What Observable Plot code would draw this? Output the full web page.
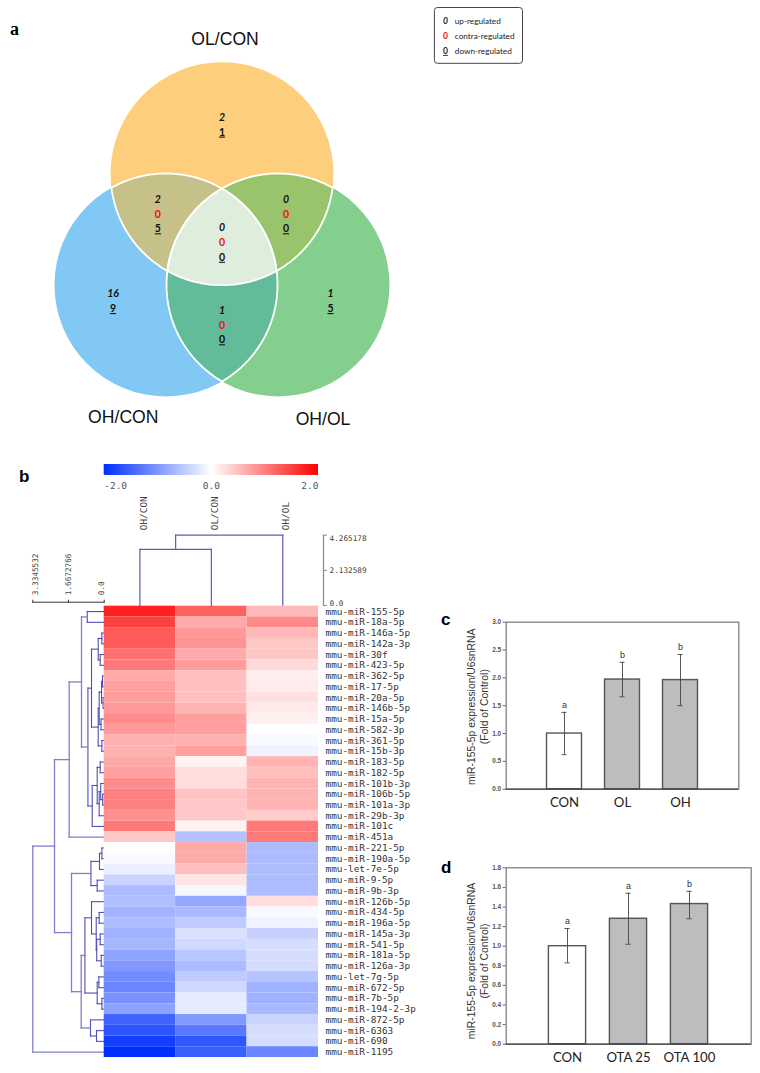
<!DOCTYPE html>
<html>
<head>
<meta charset="utf-8">
<script src="https://cdn.jsdelivr.net/npm/d3@7"></script>
<script src="https://cdn.jsdelivr.net/npm/@observablehq/plot@0.6"></script>
<style>
  html, body { margin: 0; padding: 0; background: #fff; }
  #page { position: relative; width: 760px; height: 1073px; overflow: hidden; }
  .under text { text-decoration: underline; }
  .panel { position: absolute; font-weight: 700; color: #000; line-height: 1; }
</style>
</head>
<body>
<div id="page"></div>
<script>
/* ---------- data ---------- */
const vennSets = ["OL/CON", "OH/CON", "OH/OL"];
const vennRegions = ["OL", "OH/CON only", "OH/OL only", "OL&OH", "OL&OHOL", "OH&OHOL", "all"];
const vennUp     = [2, 16, 1, 2, 0, 1, 0];
const vennContra = [null, null, null, 0, 0, 0, 0];
const vennDown   = [1, 9, 5, 5, 0, 0, 0];

const legendKeys   = ["0", "0", "0"];
const legendLabels = ["up-regulated", "contra-regulated", "down-regulated"];

const heatColumns = ["OH/CON", "OL/CON", "OH/OL"];
const rowLabels = ["mmu-miR-155-5p","mmu-miR-18a-5p","mmu-miR-146a-5p","mmu-miR-142a-3p","mmu-miR-30f","mmu-miR-423-5p","mmu-miR-362-5p","mmu-miR-17-5p","mmu-miR-20a-5p","mmu-miR-146b-5p","mmu-miR-15a-5p","mmu-miR-582-3p","mmu-miR-361-5p","mmu-miR-15b-3p","mmu-miR-183-5p","mmu-miR-182-5p","mmu-miR-101b-3p","mmu-miR-106b-5p","mmu-miR-101a-3p","mmu-miR-29b-3p","mmu-miR-101c","mmu-miR-451a","mmu-miR-221-5p","mmu-miR-190a-5p","mmu-let-7e-5p","mmu-miR-9-5p","mmu-miR-9b-3p","mmu-miR-126b-5p","mmu-miR-434-5p","mmu-miR-196a-5p","mmu-miR-145a-3p","mmu-miR-541-5p","mmu-miR-181a-5p","mmu-miR-126a-3p","mmu-let-7g-5p","mmu-miR-672-5p","mmu-miR-7b-5p","mmu-miR-194-2-3p","mmu-miR-872-5p","mmu-miR-6363","mmu-miR-690","mmu-miR-1195"];
const valuesOHCON = [1.75,1.5,1.3,1.3,1.12,1.05,.67,.75,.78,.8,.9,.8,.62,.62,.68,.75,.9,1.0,1.0,.87,1.05,.43,0,-.05,-.15,-.42,-.65,-.62,-.72,-.65,-.75,-.7,-.88,-1.0,-1.1,-1.18,-1.05,-.9,-1.5,-1.65,-1.85,-2];
const valuesOLCON = [1.25,.67,.8,.85,.67,.78,.5,.5,.5,.59,.75,.75,.62,.75,.1,.27,.27,.46,.43,.43,.1,-.6,.67,.67,.5,.2,-.08,-.85,-.68,-.5,-.3,-.38,-.55,-.65,-.5,-.38,-.2,-.2,-.98,-1.3,-1.62,-1.55];
const valuesOHOL  = [.55,.93,.56,.45,.45,.3,.13,.16,.24,.18,.12,0,-.05,-.12,.6,.5,.6,.6,.6,.4,1.05,1.05,-.65,-.65,-.65,-.65,-.65,.27,-.05,-.12,-.45,-.33,-.33,-.33,-.58,-.75,-.75,-.68,-.42,-.33,-.33,-1.18];

const colorStops = [-2, 0, 2];
const colorTicks = ["-2.0", "0.0", "2.0"];

const columnTree = [4.265178, [3.4, "OH/CON", "OL/CON"], "OH/OL"];
const columnTicks = [4.265178, 2.132589, 0];
const columnTickLabels = ["4.265178", "2.132589", "0.0"];
const rowTicks = [3.3345532, 1.6672766, 0];
const rowTickLabels = ["3.3345532", "1.6672766", "0.0"];
const rowTree =
 [3.3345,
  [2.32,
   [1.635,
    [1.06,
     [.79, "mmu-miR-155-5p", "mmu-miR-18a-5p"],
     [.76,
      [.593,
       [.28, [.11, "mmu-miR-146a-5p", "mmu-miR-142a-3p"], [.187, "mmu-miR-30f", "mmu-miR-423-5p"]],
       [.28,
        [.234,
         [.125, [.08, "mmu-miR-362-5p", "mmu-miR-17-5p"], [.05, "mmu-miR-20a-5p", "mmu-miR-146b-5p"]],
         [.15, "mmu-miR-15a-5p", "mmu-miR-582-3p"]],
        [.11, "mmu-miR-361-5p", "mmu-miR-15b-3p"]]],
      [.56,
       [.327,
        [.187, "mmu-miR-183-5p", "mmu-miR-182-5p"],
        [.234,
         [.163, "mmu-miR-101b-3p", [.07, "mmu-miR-106b-5p", "mmu-miR-101a-3p"]],
         "mmu-miR-29b-3p"]],
       "mmu-miR-101c"]]],
    "mmu-miR-451a"],
   [1.527,
    [.62,
     [.22, [.107, "mmu-miR-221-5p", "mmu-miR-190a-5p"], "mmu-let-7e-5p"],
     [.327, "mmu-miR-9-5p", "mmu-miR-9b-3p"]],
    [1.074,
     [.90,
      [.593,
       "mmu-miR-126b-5p",
       [.373,
        [.234, "mmu-miR-434-5p", "mmu-miR-196a-5p"],
        [.35, [.187, "mmu-miR-145a-3p", "mmu-miR-541-5p"], [.14, "mmu-miR-181a-5p", "mmu-miR-126a-3p"]]]],
      [.327, [.248, "mmu-let-7g-5p", "mmu-miR-672-5p"], [.107, "mmu-miR-7b-5p", "mmu-miR-194-2-3p"]]],
     [.64, "mmu-miR-872-5p", [.36, "mmu-miR-6363", "mmu-miR-690"]]]]],
  "mmu-miR-1195"];

const barYLabel = "miR-155-5p expression/U6snRNA\n(Fold of Control)";

const groupsC  = ["CON", "OL", "OH"];
const meanC    = [1.0, 1.97, 1.96];
const lowC     = [0.62, 1.66, 1.5];
const highC    = [1.38, 2.28, 2.42];
const lettersC = ["a", "b", "b"];

const groupsD  = ["CON", "OTA 25", "OTA 100"];
const meanD    = [1.0, 1.28, 1.43];
const lowD     = [0.83, 1.02, 1.28];
const highD    = [1.18, 1.54, 1.56];
const lettersD = ["a", "a", "b"];

/* ---------- helpers ---------- */
const page = document.getElementById("page");
const place = (plot, left, top) => {
  plot.style.position = "absolute";
  plot.style.left = left + "px";
  plot.style.top = top + "px";
  plot.style.background = "transparent";
  plot.style.maxWidth = "none";
  page.appendChild(plot);
};
const panelLabel = (txt, left, top, font, size) => {
  const d = document.createElement("div");
  d.className = "panel";
  d.textContent = txt;
  d.style.left = left + "px";
  d.style.top = top + "px";
  d.style.fontFamily = font;
  d.style.fontSize = size + "px";
  page.appendChild(d);
};
const mono = "'DejaVu Sans Mono','Liberation Mono',monospace";
const lato = "Lato, 'Open Sans', sans-serif";
const arial = "'Liberation Sans', Arial, sans-serif";
const heatColor = {type: "linear", domain: colorStops, range: ["#0030ff", "#ffffff", "#ff0000"]};

/* ---------- a: venn ---------- */
const R = 111.5;
const C = [{x: 221.5, y: 173.2, fill: "#FDCF7D"}, {x: 165.5, y: 284.5, fill: "#82C8F4"}, {x: 277.5, y: 284.5, fill: "#84CE8E"}];
function meet(a, b) {
  const dx = b.x - a.x, dy = b.y - a.y, d = Math.hypot(dx, dy), h = Math.sqrt(R * R - d * d / 4);
  const mx = (a.x + b.x) / 2, my = (a.y + b.y) / 2;
  return [{x: mx - h * dy / d, y: my + h * dx / d}, {x: mx + h * dy / d, y: my - h * dx / d}];
}
function arc(c, p, q) {
  const a0 = Math.atan2(p.y - c.y, p.x - c.x);
  let da = Math.atan2(q.y - c.y, q.x - c.x) - a0;
  if (da > Math.PI) da -= 2 * Math.PI;
  if (da < -Math.PI) da += 2 * Math.PI;
  return d3.range(0, 49).map(i => ({x: c.x + R * Math.cos(a0 + da * i / 48), y: c.y + R * Math.sin(a0 + da * i / 48)}));
}
const lens = (a, b) => { const [p, q] = meet(a, b); return [...arc(a, p, q), ...arc(b, q, p)]; };
const inside = (p, c) => Math.hypot(p.x - c.x, p.y - c.y) < R;
const inner = (a, b, c) => meet(a, b).find(p => inside(p, c));
const ab = inner(C[0], C[1], C[2]), bc = inner(C[1], C[2], C[0]), ca = inner(C[2], C[0], C[1]);
const centre = [...arc(C[0], ca, ab), ...arc(C[1], ab, bc), ...arc(C[2], bc, ca)];
const lensSpec = [[lens(C[0], C[1]), "#C5C189"], [lens(C[0], C[2]), "#9AC46C"], [lens(C[1], C[2]), "#62BC9A"], [centre, "#DFEDDC"]];

const regionAt = [[221.5, 117], [112.5, 293.5], [330, 293.5], [157.4, 199], [285.5, 199], [221.5, 310], [221.5, 227.5]];
const rowGap = 14.7;
const countRows = vennRegions.flatMap((r, i) => {
  const [x, y] = regionAt[i];
  const three = vennContra[i] !== null;
  return [
    {kind: "up", x, y, t: vennUp[i]},
    ...(three ? [{kind: "contra", x, y: y + rowGap, t: vennContra[i]}] : []),
    {kind: "down", x, y: y + (three ? 2 : 1) * rowGap, t: vennDown[i]}
  ];
});
const titlePos = [[224.6, 39], [122.8, 417], [322.5, 419]];
const legendY = [20.7, 35.7, 50.7];
const numStyle = {x: "x", y: "y", text: d => String(d.t), fontFamily: lato, fontWeight: 700, fontSize: 10.5, fill: "#111"};

place(Plot.plot({
  width: 540, height: 440, margin: 0,
  x: {domain: [0, 540], range: [0, 540], axis: null},
  y: {domain: [0, 440], range: [0, 440], axis: null},
  marks: [
    Plot.dot(C, {x: "x", y: "y", r: R, fill: "fill"}),
    ...lensSpec.map(([pts, fill]) => Plot.line(pts, {x: "x", y: "y", fill, stroke: "#fff", strokeWidth: 1.8, strokeLinejoin: "round"})),
    Plot.text(vennSets, {x: (d, i) => titlePos[i][0], y: (d, i) => titlePos[i][1], text: d => d, fontFamily: arial, fontSize: 17.6, fill: "#111"}),
    Plot.text(countRows.filter(d => d.kind === "up"), {...numStyle, fontStyle: "italic"}),
    Plot.text(countRows.filter(d => d.kind === "contra"), {...numStyle, fill: "#f01010"}),
    Plot.text(countRows.filter(d => d.kind === "down"), {...numStyle, className: "under"}),
    Plot.rect([0], {x1: 434.4, x2: 522.5, y1: 7.5, y2: 63.3, rx: 3, fill: "#fff", stroke: "#444", strokeWidth: 1}),
    Plot.text([legendKeys[0]], {x: 445, y: legendY[0], text: d => d, fontFamily: lato, fontSize: 8.5, fontStyle: "italic", fontWeight: 700, fill: "#222"}),
    Plot.text([legendKeys[1]], {x: 445, y: legendY[1], text: d => d, fontFamily: lato, fontSize: 8.5, fontWeight: 700, fill: "#f01010"}),
    Plot.text([legendKeys[2]], {x: 445, y: legendY[2], text: d => d, fontFamily: lato, fontSize: 8.5, fontWeight: 700, fill: "#222", className: "under"}),
    Plot.text(legendLabels, {x: 454.3, y: (d, i) => legendY[i], text: d => d, textAnchor: "start", fontFamily: lato, fontSize: 8.2, fill: "#222"})
  ]
}), 0, 0);

/* ---------- b: heat map ---------- */
function flatten(tree, pos) {
  const segs = [];
  const walk = n => {
    if (!Array.isArray(n)) return {p: pos(n), h: 0};
    const [h, a, b] = n, l = walk(a), r = walk(b);
    segs.push({p1: l.p, p2: r.p, h1: h, h2: h});
    segs.push({p1: l.p, p2: l.p, h1: l.h, h2: h});
    segs.push({p1: r.p, p2: r.p, h1: r.h, h2: h});
    return {p: (l.p + r.p) / 2, h};
  };
  walk(tree);
  return segs;
}
const heatCells = rowLabels.flatMap((name, i) => [
  {name, col: heatColumns[0], v: valuesOHCON[i]},
  {name, col: heatColumns[1], v: valuesOLCON[i]},
  {name, col: heatColumns[2], v: valuesOHOL[i]}
]);
const treeStroke = {strokeLinecap: "square"};

// colour bar
const barSteps = d3.range(-2, 2, 0.02);
place(Plot.plot({
  width: 430, height: 40,
  marginLeft: 103.7, marginRight: 112, marginTop: 4, marginBottom: 25.3,
  x: {domain: [-2, 2], axis: null},
  y: {axis: null},
  color: heatColor,
  marks: [
    Plot.rect(barSteps, {x1: d => d, x2: d => Math.min(2, d + 0.06), fill: d => d}),
    ...colorTicks.map((t, i) => Plot.text([t], {
      x: colorStops[i], frameAnchor: "bottom", dy: 14, text: d => d, fontFamily: mono, fontSize: 9.5, fill: "#555",
      textAnchor: ["start", "middle", "end"][i]
    }))
  ]
}), 0, 460);

// top dendrogram
const colSegs = flatten(columnTree, n => heatColumns.indexOf(n) + 0.5);
place(Plot.plot({
  width: 430, height: 130,
  marginLeft: 0, marginRight: 107, marginTop: 54.7, marginBottom: 5,
  x: {domain: [0, 3], range: [103.7, 318], axis: null},
  y: {domain: [0, 4.265178], axis: null},
  marks: [
    Plot.link(colSegs, {x1: "p1", x2: "p2", y1: "h1", y2: "h2", stroke: "#5c5cb8", strokeWidth: 1.2, ...treeStroke}),
    Plot.frame({anchor: "right", stroke: "#888", strokeWidth: 1.2}),
    Plot.axisY({anchor: "right", ticks: columnTicks, tickSize: 3, tickFormat: () => "", stroke: "#888", label: null}),
    ...columnTickLabels.map((t, i) => Plot.text([t], {
      y: columnTicks[i], frameAnchor: "right", dx: 6, text: d => d, textAnchor: "start",
      lineAnchor: ["top", "middle", "bottom"][i], fontFamily: mono, fontSize: 7.7, fill: "#444"
    })),
    Plot.text(heatColumns, {
      x: (d, i) => i + 0.5, frameAnchor: "top", dy: -5, rotate: -90, text: d => d, textAnchor: "start",
      fontFamily: mono, fontSize: 9.4, fill: "#444"
    })
  ]
}), 0, 480);

// left dendrogram
const rowSegs = flatten(rowTree, n => rowLabels.indexOf(n) + 0.5);
place(Plot.plot({
  width: 110, height: 525,
  marginLeft: 32.3, marginRight: 6.3, marginTop: 61.7, marginBottom: 8,
  x: {domain: [3.3345532, 0], axis: null},
  y: {domain: [0, 42], range: [65.7, 517], axis: null},
  marks: [
    Plot.link(rowSegs.filter(d => d.h2 < 1), {x1: "h1", x2: "h2", y1: "p1", y2: "p2", stroke: "#5050b4", strokeWidth: 1.1, ...treeStroke}),
    Plot.link(rowSegs.filter(d => d.h2 >= 1), {x1: "h1", x2: "h2", y1: "p1", y2: "p2", stroke: "#7f7fca", strokeWidth: 1.3, ...treeStroke}),
    Plot.frame({anchor: "top", stroke: "#333"}),
    Plot.axisX({anchor: "top", ticks: rowTicks, tickSize: 3, tickFormat: () => "", stroke: "#333", label: null}),
    ...rowTickLabels.map((t, i) => Plot.text([t], {
      x: rowTicks[i], frameAnchor: "top", dy: -7, rotate: -90, text: d => d, textAnchor: "start",
      lineAnchor: ["top", "middle", "bottom"][i], fontFamily: mono, fontSize: 7.7, fill: "#444"
    }))
  ]
}), 0, 540);

// cells
place(Plot.plot({
  width: 430, height: 460,
  marginLeft: 103.7, marginRight: 112, marginTop: 5.7, marginBottom: 3,
  x: {domain: heatColumns, padding: 0, round: false, axis: null},
  y: {domain: rowLabels, padding: 0, round: false, axis: null},
  color: heatColor,
  marks: [
    Plot.cell(heatCells, {x: "col", y: "name", fill: "v", inset: 0}),
    Plot.axisY({anchor: "right", tickSize: 0, tickPadding: 7, fontFamily: mono, fontSize: 9.4, fill: "#333", label: null})
  ]
}), 0, 600);

/* ---------- c, d: bars ---------- */
function barPanel({groups, mean, low, high, letters, top, height, yMax, step, marginTop, marginBottom, marginRight, range, barPad, capInset, labelDy}) {
  const rows = groups.map((g, i) => ({g, m: mean[i], lo: low[i], hi: high[i], l: letters[i]}));
  const plot = Plot.plot({
    width: 330, height,
    marginLeft: 75.7, marginRight, marginTop, marginBottom,
    x: {domain: groups, range, paddingInner: barPad, paddingOuter: barPad / 2, align: 0.5, round: false, axis: null},
    y: {domain: [0, yMax], axis: null},
    marks: [
      Plot.frame({stroke: "#808080", strokeWidth: 1.3}),
      Plot.barY(rows, {x: "g", y: "m", fill: d => d.g === "CON" ? "#ffffff" : "#bdbdbd", stroke: "#555", strokeWidth: 1.4}),
      Plot.ruleY([0], {stroke: "#444", strokeWidth: 1.2}),
      Plot.ruleX(rows, {x: "g", y1: "lo", y2: "hi", stroke: "#444", strokeWidth: 0.9}),
      Plot.tickY(rows, {x: "g", y: "lo", insetLeft: capInset, insetRight: capInset, stroke: "#444", strokeWidth: 0.9}),
      Plot.tickY(rows, {x: "g", y: "hi", insetLeft: capInset, insetRight: capInset, stroke: "#444", strokeWidth: 0.9}),
      Plot.text(rows, {x: "g", y: "hi", text: "l", dy: -7, fontFamily: arial, fontSize: 9, fill: "#333"}),
      Plot.axisY({anchor: "left", ticks: d3.range(0, yMax + step / 2, step), tickFormat: d3.format(".1f"), tickSize: 3, tickPadding: 2, fontFamily: arial, fontSize: 6.5, fontWeight: 700, stroke: "#666", fill: "#555", label: null}),
      Plot.axisX({anchor: "bottom", tickSize: 0, tickPadding: 8, fontFamily: lato, fontSize: 13.2, fill: "#222", label: null}),
      Plot.text([barYLabel], {frameAnchor: "left", dx: -29, dy: labelDy, rotate: -90, text: d => d, textAnchor: "middle", fontFamily: arial, fontSize: 10.4, lineHeight: 1.25, fill: "#333"})
    ]
  });
  place(plot, 430, top);
}
barPanel({groups: groupsC, mean: meanC, low: lowC, high: highC, letters: lettersC, top: 600, height: 220, yMax: 3, step: 0.5,
  marginTop: 21.7, marginBottom: 31.3, marginRight: 21.7, range: [105, 279], barPad: 0.397, capInset: 15, labelDy: 1});
barPanel({groups: groupsD, mean: meanD, low: lowD, high: highD, letters: lettersD, top: 850, height: 220, yMax: 1.8, step: 0.2,
  marginTop: 17.3, marginBottom: 26.3, marginRight: 9.3, range: [106.5, 289.5], barPad: 0.39, capInset: 16, labelDy: 5});

/* ---------- panel letters ---------- */
panelLabel("a", 10, 20, "'Liberation Serif', serif", 18);
panelLabel("b", 19, 468, arial, 17);
panelLabel("c", 441, 611, arial, 17);
panelLabel("d", 441, 859, arial, 17);
</script>
</body>
</html>
